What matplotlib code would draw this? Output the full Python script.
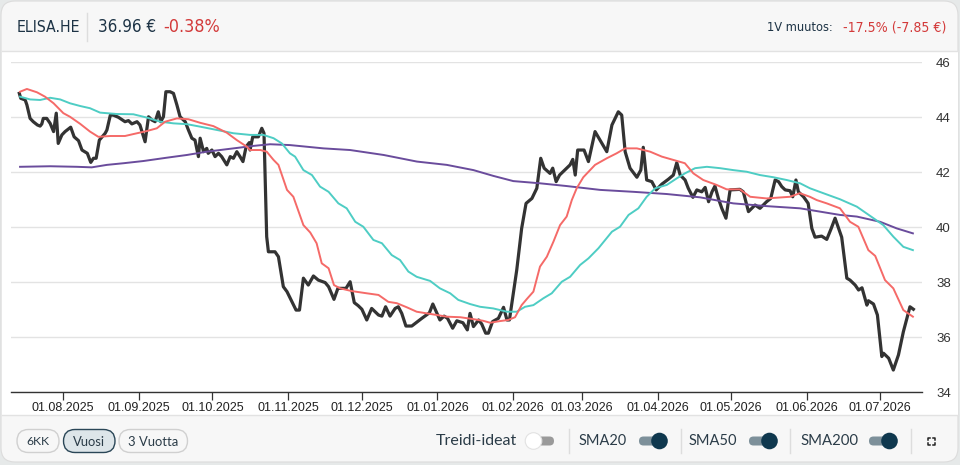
import numpy as np
import pandas as pd
import matplotlib
matplotlib.use("Agg")
import matplotlib.pyplot as plt
import matplotlib.dates as mdates
from matplotlib import font_manager as fm
from matplotlib.patches import FancyBboxPatch, Circle, Rectangle

# days are counted from 01.08.2025
base_date = pd.Timestamp("2025-08-01")

price_day = [-17.9, -17.3, -15.5, -14.8, -13.5, -12.2, -10.5, -9.4, -8.7, -8.1, -6.7, -5.3, -3.9, -2.8, -2.0,
             -0.5, 0.8, 3.1, 4.5, 6.3, 7.7, 9.9, 11.3, 12.4, 13.5, 14.8, 17.2, 17.9, 19.3, 20.5, 22.6, 25.3,
             26.7, 28.1, 30.2, 31.4, 33.5, 34.9, 36.3, 37.6, 38.9, 39.9, 41.0, 42.0, 43.7, 45.1, 46.5, 47.8,
             49.9, 51.2, 52.6, 53.9, 55.3, 56.0, 57.4, 58.7, 59.3, 60.8, 62.1, 63.5, 64.8, 66.9, 68.3, 69.6,
             71.0, 72.3, 73.5, 74.8, 76.1, 76.4, 77.5, 79.8, 81.2, 82.1, 83.2, 83.9, 86.6, 88.0, 90.0, 91.5,
             95.2, 96.6, 98.2, 100.2, 102.3, 104.3, 107.1, 108.5, 110.7, 112.3, 115.6, 117.3, 119.0, 120.6,
             122.1, 124.1, 126.1, 128.9, 130.3, 131.8, 133.6, 135.7, 137.0, 138.4, 140.1, 142.5, 146.6, 149.7,
             151.1, 152.8, 154.0, 155.7, 157.1, 159.2, 160.9, 163.4, 165.2, 166.3, 167.7, 169.8, 171.1, 172.7,
             173.8, 175.5, 177.9, 180.0, 181.4, 182.4, 185.4, 187.4, 189.2, 191.6, 193.6, 195.2, 196.6, 199.0,
             200.1, 201.5, 202.9, 207.2, 208.3, 209.3, 210.3, 212.9, 214.7, 217.4, 222.2, 224.3, 226.9, 228.3,
             229.7, 231.7, 234.5, 236.1, 237.1, 238.5, 240.6, 242.4, 244.7, 247.4, 249.4, 250.8, 252.2, 254.2,
             255.5, 257.4, 259.0, 261.0, 262.4, 263.8, 265.2, 266.4, 267.8, 269.2, 270.9, 272.6, 276.6, 278.0,
             280.1, 282.8, 284.8, 287.5, 289.2, 291.0, 292.4, 293.7, 295.1, 297.1, 298.2, 299.5, 300.5, 302.6,
             304.5, 306.0, 307.3, 310.0, 312.1, 313.8, 315.5, 318.2, 320.3, 321.6, 323.7, 325.1, 326.5, 328.5,
             329.1, 331.2, 332.8, 334.6, 335.3, 337.4, 339.3, 341.4, 343.4, 346.1, 347.5]
price = [44.87, 44.69, 44.63, 44.45, 43.96, 43.84, 43.72, 43.68, 43.76, 43.96, 43.96, 43.78, 43.48, 44.15, 43.05,
         43.36, 43.48, 43.64, 43.29, 43.15, 42.81, 42.69, 42.36, 42.51, 42.51, 43.17, 43.42, 43.54, 44.08, 44.08,
         44.00, 43.84, 43.88, 43.76, 43.84, 43.72, 43.11, 44.02, 43.90, 43.84, 44.20, 43.84, 44.02, 44.93, 44.93,
         44.87, 44.45, 44.02, 43.84, 43.54, 43.24, 43.17, 42.57, 43.24, 42.75, 42.87, 42.69, 42.81, 42.57, 42.69,
         42.57, 42.27, 42.57, 42.51, 42.75, 42.57, 42.39, 42.93, 43.08, 42.81, 43.29, 43.29, 43.60, 43.42, 39.66,
         39.11, 39.11, 38.93, 37.84, 37.66, 36.99, 36.99, 38.15, 37.90, 38.23, 38.08, 37.99, 37.84, 37.38, 37.78,
         37.78, 38.02, 37.26, 37.15, 37.02, 36.63, 37.05, 36.81, 36.77, 37.11, 36.77, 37.05, 37.11, 36.87, 36.41,
         36.41, 36.69, 36.89, 37.21, 36.87, 36.63, 36.77, 36.69, 36.33, 36.60, 36.53, 36.27, 36.87, 36.39, 36.63,
         36.48, 36.15, 36.15, 36.57, 36.69, 37.09, 36.63, 36.63, 38.45, 39.96, 40.87, 41.05, 41.42, 42.51, 42.15,
         41.96, 42.15, 41.66, 41.90, 42.27, 42.47, 41.90, 42.81, 42.81, 42.39, 43.48, 42.75, 43.72, 44.20, 44.08,
         42.75, 42.15, 41.82, 42.08, 42.91, 41.72, 41.66, 41.36, 41.57, 41.75, 41.90, 42.35, 41.90, 41.72, 41.42,
         41.09, 41.36, 41.29, 41.45, 40.93, 41.29, 41.50, 41.05, 40.69, 40.33, 41.36, 41.38, 41.29, 40.57, 40.81,
         40.69, 40.93, 41.05, 41.72, 41.66, 41.48, 41.36, 41.33, 41.11, 41.72, 41.29, 41.11, 40.87, 39.96, 39.64,
         39.68, 39.56, 39.93, 40.33, 39.64, 38.15, 38.08, 37.90, 37.72, 37.80, 37.17, 37.33, 37.21, 36.81, 35.30,
         35.42, 35.24, 34.81, 35.36, 36.20, 37.11, 37.02]

sma20_day = [-17.6, -14.8, -10.7, -7.4, -3.9, 0.1, 2.8, 7.0, 11.0, 14.4, 19.3, 25.3, 28.7, 34.2, 38.3, 41.7, 46.5,
             51.2, 56.0, 61.4, 66.9, 71.0, 75.1, 76.4, 80.6, 83.2, 86.0, 88.0, 91.5, 94.1, 98.2, 101.0, 103.6,
             105.7, 108.5, 110.7, 113.2, 118.0, 124.1, 128.9, 132.9, 136.4, 140.5, 144.5, 152.8, 156.8, 162.3,
             167.7, 171.7, 174.5, 178.6, 181.9, 184.7, 187.4, 189.5, 192.2, 194.9, 197.7, 200.4, 203.1, 205.8,
             207.9, 209.9, 212.6, 217.4, 222.2, 226.2, 229.7, 234.5, 239.9, 244.7, 249.4, 254.1, 257.6, 261.6,
             267.1, 271.2, 276.6, 280.8, 287.5, 297.1, 301.1, 305.2, 308.0, 312.1, 317.5, 321.6, 325.0, 329.1,
             331.9, 335.9, 339.3, 343.4, 347.3]
sma20 = [44.93, 45.03, 44.91, 44.75, 44.51, 44.15, 44.02, 43.76, 43.48, 43.29, 43.32, 43.32, 43.39, 43.50, 43.60,
         43.84, 43.96, 43.93, 43.80, 43.68, 43.44, 43.17, 42.93, 42.81, 42.81, 42.75, 42.45, 42.27, 41.36, 41.11,
         40.08, 39.81, 39.42, 38.69, 38.51, 37.90, 37.78, 37.68, 37.60, 37.54, 37.29, 37.24, 37.09, 36.93, 36.81,
         36.75, 36.73, 36.66, 36.60, 36.53, 36.59, 36.63, 36.73, 37.17, 37.39, 37.66, 38.57, 38.93, 39.48, 40.08,
         40.39, 40.99, 41.42, 41.82, 42.27, 42.51, 42.69, 42.87, 42.87, 42.75, 42.57, 42.45, 42.33, 41.96, 41.72,
         41.54, 41.38, 41.38, 41.11, 41.05, 41.11, 41.24, 41.11, 40.99, 40.87, 40.69, 40.20, 40.02, 39.17, 38.96,
         38.08, 37.78, 36.99, 36.75]

sma50_day = [-17.6, -13.5, -9.4, -5.3, -1.2, 2.8, 7.0, 11.0, 15.1, 21.9, 28.7, 34.2, 39.7, 45.1, 50.6, 56.0, 62.8,
             69.6, 76.4, 81.8, 86.0, 89.4, 92.7, 94.8, 98.2, 101.7, 105.0, 108.5, 112.5, 115.9, 119.4, 122.7,
             126.8, 130.3, 134.3, 137.7, 141.1, 144.5, 150.0, 154.0, 158.2, 161.5, 166.3, 170.4, 175.8, 181.4,
             185.4, 188.8, 192.2, 196.3, 199.7, 203.8, 207.2, 211.3, 214.7, 218.8, 224.3, 227.6, 231.1, 235.1,
             238.5, 242.0, 246.7, 250.8, 254.1, 258.3, 263.1, 268.5, 273.9, 279.4, 284.8, 290.3, 295.7, 301.2,
             305.2, 310.7, 317.5, 324.4, 331.2, 335.2, 339.3, 343.4, 347.3]
sma50 = [44.75, 44.65, 44.63, 44.71, 44.65, 44.51, 44.41, 44.33, 44.17, 44.12, 44.11, 43.99, 43.84, 43.78, 43.75,
         43.66, 43.54, 43.42, 43.36, 43.36, 43.24, 43.05, 42.69, 42.57, 42.08, 41.90, 41.48, 41.29, 40.87, 40.69,
         40.20, 40.02, 39.54, 39.42, 38.99, 38.81, 38.39, 38.20, 38.05, 37.78, 37.60, 37.36, 37.21, 37.11, 37.05,
         36.93, 36.93, 37.11, 37.17, 37.42, 37.60, 38.02, 38.20, 38.63, 38.87, 39.24, 39.84, 40.02, 40.45, 40.69,
         41.11, 41.42, 41.54, 41.78, 41.96, 42.15, 42.20, 42.15, 42.08, 42.02, 41.90, 41.82, 41.72, 41.60, 41.42,
         41.24, 41.02, 40.75, 40.33, 40.08, 39.66, 39.29, 39.17]

sma200_day = [-17.6, -5.3, 5.6, 11.7, 17.9, 24.7, 32.8, 42.3, 50.6, 58.7, 69.6, 77.8, 84.6, 92.7, 106.4, 117.3,
              131.0, 144.6, 156.8, 167.7, 175.8, 184.0, 194.9, 205.8, 219.5, 233.1, 246.7, 260.3, 273.9, 287.5,
              301.2, 317.5, 324.4, 333.9, 340.7, 347.3]
sma200 = [42.20, 42.22, 42.20, 42.18, 42.27, 42.33, 42.41, 42.53, 42.63, 42.75, 42.87, 42.96, 43.02, 42.99, 42.87,
          42.81, 42.63, 42.39, 42.27, 42.08, 41.87, 41.68, 41.60, 41.50, 41.36, 41.29, 41.21, 41.09, 40.87, 40.77,
          40.69, 40.45, 40.39, 40.20, 39.96, 39.78]

y_ticks = [34, 36, 38, 40, 42, 44, 46]


def to_dates(days):
    return mdates.date2num(base_date) + np.array(days)


def find_condensed():
    # the header uses a narrow face; take the closest one that is installed
    rank = {"extra-condensed": 0, "condensed": 1, "semi-condensed": 2}
    found = []
    for f in fm.fontManager.ttflist:
        narrow = "Narrow" in f.name or "Condensed" in f.name or str(f.stretch) in rank
        if narrow and f.style == "normal" and f.weight in (400, "normal", "regular", "book"):
            found.append((rank.get(str(f.stretch), 3), f.fname))
    if found:
        found.sort()
        return fm.FontProperties(fname=found[0][1])
    return fm.FontProperties(family=["Liberation Sans", "DejaVu Sans"])


W, H = 960, 465
fig = plt.figure(figsize=(W / 100, H / 100), dpi=100)
fig.patch.set_facecolor("#e6e9e9")
renderer = fig.canvas.get_renderer()


def fit_width(t, width_px):
    # scale a text so that its rendered width matches the reference
    w = t.get_window_extent(renderer).width
    t.set_fontsize(t.get_fontsize() * width_px / w)


head_prop = find_condensed()

# background / card, drawn in pixel coordinates
bg = fig.add_axes([0, 0, 1, 1])
bg.set_xlim(0, W)
bg.set_ylim(H, 0)
bg.axis("off")
bg.add_patch(FancyBboxPatch((1, 1), W - 3, H - 4, boxstyle="round,pad=0,rounding_size=14",
                            facecolor="#f7f7f7", edgecolor="#dcdcdc", lw=0.8))
bg.add_patch(Rectangle((1.5, 51.5), W - 4, 363.5, facecolor="white", edgecolor="none"))
bg.plot([1.5, W - 2.5], [51.5, 51.5], color="#e2e2e2", lw=1)
bg.plot([1.5, W - 2.5], [415, 415], color="#e2e2e2", lw=1)

navy = "#1d3345"
red = "#d33a3a"
header = [("ELISA.HE", 17, "left", navy, 64), ("36.96 €", 98, "left", navy, 58),
          ("-0.38%", 163, "left", red, 57), ("1V muutos:", 833, "right", navy, 66),
          ("-17.5% (-7.85 €)", 946, "right", red, 103)]
for label, x, ha, col, width in header:
    t = bg.text(x, 27.5, label, ha=ha, va="center", color=col, fontproperties=head_prop)
    t.set_fontsize(14)
    fit_width(t, width)
bg.plot([87, 87], [13, 41], color="#dddddd", lw=1)

# footer buttons
foot_font = ["Lato", "DejaVu Sans"]
buttons = [("6KK", 17, 59, False, 23.4), ("Vuosi", 63.5, 115, True, 32.4), ("3 Vuotta", 119, 187.5, False, 50.7)]
for label, x0, x1, active, width in buttons:
    bg.add_patch(FancyBboxPatch((x0, 429.5), x1 - x0, 23, boxstyle="round,pad=0,rounding_size=11.5",
                                facecolor="#dde5e9" if active else "#f7f7f7",
                                edgecolor="#2a4657" if active else "#d0d0d0", lw=1.0))
    t = bg.text((x0 + x1) / 2, 441.5, label, ha="center", va="center", fontsize=9.5, color="#2b3c48",
                family=foot_font)
    fit_width(t, width)

t = bg.text(435.5, 441, "Treidi-ideat", ha="left", va="center", fontsize=11, color="#2b3c48", family=foot_font)
fit_width(t, 81.5)
bg.add_patch(FancyBboxPatch((530, 436.5), 24, 9, boxstyle="round,pad=0,rounding_size=4.5",
                            facecolor="#9a9a9a", edgecolor="none"))
bg.add_patch(Circle((533.5, 441), 8.3, facecolor="white", edgecolor="#e2e2e2", lw=0.8))

toggles = [("SMA20", 578.5, 639, 659.5, 48.2), ("SMA50", 689, 749, 769.5, 48.5),
           ("SMA200", 800, 869, 889.5, 58.2)]
for label, tx, track_x, knob_x, width in toggles:
    t = bg.text(tx, 441, label, ha="left", va="center", fontsize=10.5, color="#2b3c48", family=foot_font)
    fit_width(t, width)
    bg.add_patch(FancyBboxPatch((track_x, 436.5), 28, 9, boxstyle="round,pad=0,rounding_size=4.5",
                                facecolor="#7d909a", edgecolor="none"))
    bg.add_patch(Circle((knob_x, 441), 8.3, facecolor="#0f384e", edgecolor="none"))

for sx in [569, 680.5, 790, 910.5]:
    bg.plot([sx, sx], [429, 453], color="#dddddd", lw=1)

# fullscreen icon
cx, cy = 931.5, 441
for dx in (-1, 1):
    for dy in (-1, 1):
        bg.plot([cx + dx * 3.5, cx + dx * 3.5, cx + dx * 1.5], [cy + dy * 1.5, cy + dy * 3.5, cy + dy * 3.5],
                color="#222222", lw=1.1)

# the chart itself
ax = fig.add_axes([11 / W, (H - 392.3) / H, 910.7 / W, 330 / H])
ax.set_facecolor("none")

ax.plot(to_dates(price_day), price, color="#333333", lw=2.3, solid_joinstyle="round", zorder=3)
ax.plot(to_dates(sma200_day), sma200, color="#6a4c9c", lw=1.4, zorder=4)
ax.plot(to_dates(sma50_day), sma50, color="#4ecdc4", lw=1.4, zorder=4)
ax.plot(to_dates(sma20_day), sma20, color="#f56a68", lw=1.4, zorder=5)

ax.set_xlim(mdates.date2num(base_date) - 21.3, mdates.date2num(base_date) + 350.9)
ax.set_ylim(34, 46)
ax.xaxis.set_major_locator(mdates.MonthLocator(bymonthday=1))
ax.xaxis.set_major_formatter(mdates.DateFormatter("%d.%m.%Y"))
ax.set_yticks(y_ticks)
ax.yaxis.tick_right()
ax.grid(axis="y", color="#e3e3e3", lw=1)
ax.set_axisbelow(True)
for side in ["top", "left", "right"]:
    ax.spines[side].set_visible(False)
ax.spines["bottom"].set_color("#333333")
ax.spines["bottom"].set_linewidth(1)

lbl_font = ["Liberation Sans", "DejaVu Sans"]
ax.tick_params(axis="x", direction="out", length=5.8, width=0.9, color="#333333", pad=1,
               labelsize=9, labelcolor="#222222")
ax.tick_params(axis="y", length=0, pad=10.3, labelsize=9.5, labelcolor="#333333")
for t in ax.get_xticklabels() + ax.get_yticklabels():
    t.set_family(lbl_font)

fig.savefig("out.png", dpi=100, facecolor=fig.get_facecolor())
